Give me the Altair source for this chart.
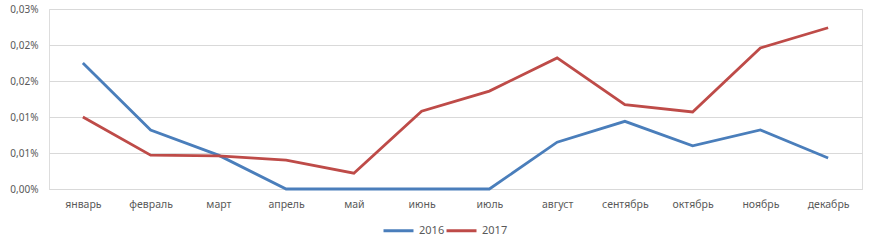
import altair as alt
import pandas as pd

months = ["январь", "февраль", "март", "апрель", "май", "июнь",
          "июль", "август", "сентябрь", "октябрь", "ноябрь", "декабрь"]
v2016 = [0.0175, 0.0082, 0.0047, 0.0, 0.0, 0.0, 0.0, 0.0065, 0.0094, 0.0060, 0.0082, 0.0043]
v2017 = [0.0100, 0.0047, 0.0046, 0.0040, 0.0022, 0.0108, 0.0136, 0.0182, 0.0117, 0.0107, 0.0196, 0.0224]
y_ticks = [0.0, 0.005, 0.010, 0.015, 0.020, 0.025]
y_labels = ["0,00%", "0,01%", "0,01%", "0,02%", "0,02%", "0,03%"]

rows = []
for m, a, b in zip(months, v2016, v2017):
    rows.append({"month": m, "series": "2016", "value": a})
    rows.append({"month": m, "series": "2017", "value": b})
df = pd.DataFrame(rows)

label_arr = "[" + ",".join("'%s'" % s for s in y_labels) + "]"
FONT = "Noto Sans"
GREY = "#595959"

chart = alt.Chart(df).mark_line(strokeWidth=2.8).encode(
    x=alt.X("month:N", sort=months, title=None,
            scale=alt.Scale(type="point", padding=0.5),
            axis=alt.Axis(labelAngle=0, ticks=False, grid=False, domain=True,
                          domainColor="#d9d9d9", domainWidth=1,
                          labelPadding=10, labelFont=FONT, labelFontSize=10.5,
                          labelColor=GREY)),
    y=alt.Y("value:Q", title=None,
            scale=alt.Scale(domain=[0, 0.025], nice=False),
            axis=alt.Axis(values=y_ticks, ticks=False, domain=False,
                          gridColor="#d9d9d9", gridWidth=1,
                          labelExpr=label_arr + "[round(datum.value/0.005)]",
                          labelPadding=11, labelFont=FONT, labelFontSize=10,
                          labelColor=GREY)),
    color=alt.Color("series:N", title=None,
                    scale=alt.Scale(domain=["2016", "2017"], range=["#4a7ebb", "#be4b48"]),
                    legend=alt.Legend(orient="none", legendX=333, legendY=205,
                                      direction="horizontal", symbolType="stroke",
                                      symbolSize=900, symbolStrokeWidth=3,
                                      labelFont=FONT, labelFontSize=11, labelColor=GREY,
                                      columnPadding=-10, labelOffset=4)),
).properties(
    width=813, height=180,
    autosize=alt.AutoSizeParams(type="none"),
    padding={"left": 49, "top": 9, "right": 16, "bottom": 63},
).configure_view(stroke=None).configure(background="white")

chart.save("out.html", embed_options={"renderer": "svg", "actions": False})
